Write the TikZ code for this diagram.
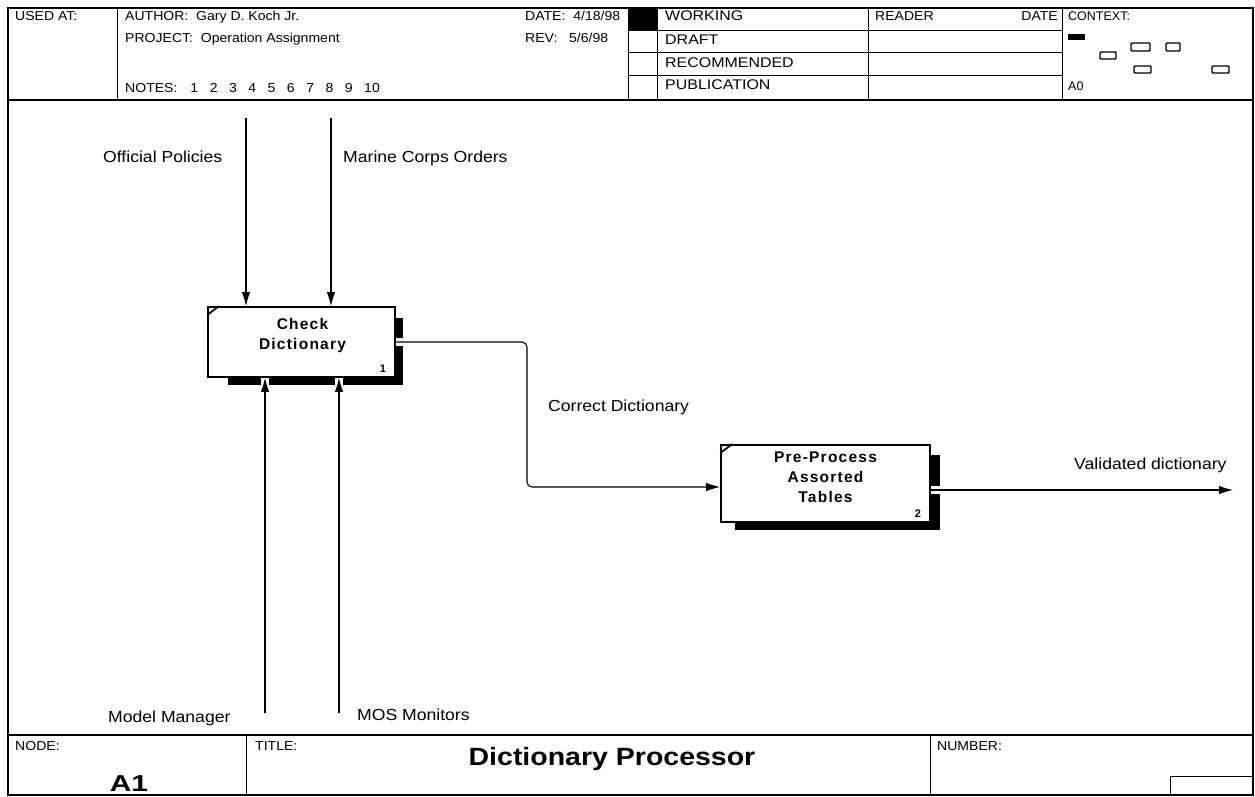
\documentclass[tikz,border=0pt]{standalone}
\usepackage{fontspec}
\setmainfont{Liberation Sans}
\newfontfamily\hdrfont[FakeStretch=1.08]{Liberation Sans}
\newfontfamily\widefont[FakeStretch=1.14]{Liberation Sans}
\newfontfamily\labfont[FakeStretch=1.1]{Liberation Sans}
\newfontfamily\boxfont[LetterSpace=8]{Liberation Sans}
\newfontfamily\titlefont[FakeStretch=1.14]{Liberation Sans}
\newfontfamily\idfont[FakeStretch=1.3]{Liberation Sans}
\usetikzlibrary{arrows.meta,calc}
\begin{document}
\begin{tikzpicture}[x=1pt,y=-1pt,
  frameline/.style={line width=1.2pt},
  gridline/.style={line width=0.9pt},
  hdrtext/.style={anchor=base west, inner sep=0pt, font=\hdrfont\fontsize{13}{15}\selectfont},
  stattext/.style={anchor=base west, inner sep=0pt, font=\widefont\fontsize{14}{16}\selectfont},
  labtext/.style={anchor=base west, inner sep=0pt, font=\labfont\fontsize{16}{18}\selectfont},
  actbox/.style={draw, line width=1.8pt, fill=white, inner sep=0pt},
  boxtext/.style={align=center, inner sep=0pt, font=\boxfont\fontsize{15.5}{20}\bfseries\selectfont},
  numtext/.style={inner sep=0pt, font=\fontsize{11}{12}\bfseries\selectfont},
  shadow/.style={fill=black},
  gap/.style={fill=white},
  flow/.style={line width=1.1pt, -{Latex[length=14pt,width=8.5pt]}},
  ctxbox/.style={draw, line width=1.4pt, rounded corners=1pt},
]
\useasboundingbox (0,0) rectangle (1255,796);

% ---------- frame ----------
\draw[frameline] (8,8) rectangle (1253,795);
\draw[frameline] (8,100) -- (1253,100);
\draw[frameline] (8,735) -- (1253,735);

% ---------- header ----------
\draw[gridline] (117,8) -- (117,100);
\draw[gridline] (628,8) -- (628,100);
\draw[gridline] (657,8) -- (657,100);
\draw[gridline] (868,8) -- (868,100);
\draw[gridline] (1062,8) -- (1062,100);
\foreach \yy in {30,52,75} \draw[gridline] (628,\yy) -- (1062,\yy);
\fill (628,8) rectangle (657,30);

\node[hdrtext] (usedat) at (15,20) {USED AT:};
\node[hdrtext] (author) at (125,20) {AUTHOR:\ \ Gary D. Koch Jr.};
\node[hdrtext] (project) at (125,42) {PROJECT:\ \ Operation Assignment};
\node[hdrtext] (notes) at (125,92) {NOTES:\hspace{13pt}1\hspace{11.5pt}2\hspace{11.5pt}3\hspace{11.5pt}4\hspace{11.5pt}5\hspace{11.5pt}6\hspace{11.5pt}7\hspace{11.5pt}8\hspace{11.5pt}9\hspace{11.5pt}10};
\node[hdrtext] (date) at (525,20) {DATE:\ \ 4/18/98};
\node[hdrtext] (rev) at (525,42) {REV:\ \ \ 5/6/98};
\node[stattext] (working) at (665,20) {WORKING};
\node[stattext] (draft) at (665,44) {DRAFT};
\node[stattext] (recommended) at (665,67) {RECOMMENDED};
\node[stattext] (publication) at (665,89) {PUBLICATION};
\node[hdrtext] (reader) at (875,20) {READER};
\node[hdrtext, anchor=base east] (rdate) at (1058,20) {DATE};
\node[hdrtext, font=\fontsize{12.5}{14}\selectfont] (context) at (1068,20) {CONTEXT:};
\node[hdrtext, font=\fontsize{12.5}{14}\selectfont] (a0) at (1068,90) {A0};

\fill (1068,34) rectangle (1085,40);
\draw[ctxbox] (1100,52) rectangle (1116,59);
\draw[ctxbox] (1131,43) rectangle (1150,51);
\draw[ctxbox] (1166,43) rectangle (1180,51);
\draw[ctxbox] (1134,66) rectangle (1151,73);
\draw[ctxbox] (1212,66) rectangle (1229,73);

% ---------- footer ----------
\draw[gridline] (246,735) -- (246,796);
\draw[gridline] (930,735) -- (930,796);
\draw[gridline] (1170,796) -- (1170,776) -- (1253,776);
\node[hdrtext] (nodelbl) at (15,750) {NODE:};
\node[hdrtext] (titlelbl) at (255,750) {TITLE:};
\node[hdrtext] (numberlbl) at (937,750) {NUMBER:};
\node[anchor=base, inner sep=0pt, font=\titlefont\fontsize{25}{27}\bfseries\selectfont] (title) at (612,765) {Dictionary Processor};
\node[anchor=base, inner sep=0pt, font=\idfont\fontsize{23}{25}\bfseries\selectfont] (nodeid) at (129,791) {A1};

% ---------- shadows ----------
\fill[shadow] (395,318) rectangle (403,385);
\fill[shadow] (228,377) rectangle (403,385);
\fill[gap] (395,338) rectangle (404,346);
\fill[gap] (261,377) rectangle (269,386);
\fill[gap] (335,377) rectangle (343,386);

\fill[shadow] (930,455) rectangle (940,530);
\fill[shadow] (735,522) rectangle (940,530);
\fill[gap] (930,486) rectangle (941,494);

% ---------- activity boxes ----------
\node[actbox, minimum width=187pt, minimum height=70pt] (b1) at (301.5,342) {};
\node[actbox, minimum width=209pt, minimum height=77pt] (b2) at (825.5,483.5) {};

\draw[line width=1.8pt] ($(b1.north west)+(0,9)$) -- ($(b1.north west)+(12,0)$);
\draw[line width=1.8pt] ($(b2.north west)+(0,9)$) -- ($(b2.north west)+(12,0)$);

\node[boxtext] (b1text) at ($(b1.center)+(1,-7)$) {Check\\Dictionary};
\node[boxtext] (b2text) at ($(b2.center)+(0,-6.5)$) {Pre-Process\\Assorted\\Tables};
\node[numtext] (b1num) at ($(b1.south east)+(-13,-9)$) {1};
\node[numtext] (b2num) at ($(b2.south east)+(-13,-9)$) {2};

% ---------- connectors ----------
\coordinate (in1) at (246,118);
\coordinate (in2) at (331,118);
\coordinate (mech1) at (265,713);
\coordinate (mech2) at (339,713);
\coordinate (bend1) at (527,342);
\coordinate (bend2) at (527,487);
\coordinate (outend) at (1233,490);

\draw[flow] (in1) -- (in1 |- b1.north);
\draw[flow] (in2) -- (in2 |- b1.north);
\draw[flow] (mech1) -- (mech1 |- b1.south);
\draw[flow] (mech2) -- (mech2 |- b1.south);
\draw[flow, rounded corners=5pt] (b1.east) -- (bend1) -- (bend2) -- (b2.west |- bend2);
\draw[flow] (b2.east |- outend) -- (outend);

% ---------- labels ----------
\node[labtext] (lpol) at (103,162) {Official Policies};
\node[labtext] (lmco) at (343,162) {Marine Corps Orders};
\node[labtext] (lcd) at (548,411) {Correct Dictionary};
\node[labtext] (lvd) at (1074,469) {Validated dictionary};
\node[labtext] (lmm) at (108,722) {Model Manager};
\node[labtext] (lmos) at (357,720) {MOS Monitors};
\end{tikzpicture}
\end{document}
